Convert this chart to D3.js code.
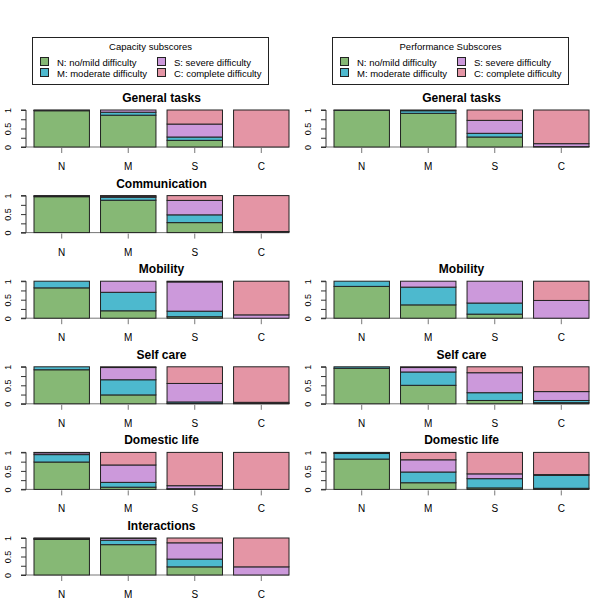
<!DOCTYPE html>
<html>
<head>
<meta charset="utf-8">
<script src="https://cdn.jsdelivr.net/npm/d3@7"></script>
<style>
  body { margin: 0; background: #fff; }
  svg { display: block; font-family: "Liberation Sans", Arial, sans-serif; }
</style>
</head>
<body>
<svg id="chart" width="600" height="600"></svg>
<script>
// ---- data ----
const categories = ["N", "M", "S", "C"];
const levels = ["N", "M", "S", "C"];
const levelLabels = ["N: no/mild difficulty", "M: moderate difficulty", "S: severe difficulty", "C: complete difficulty"];
const colors = ["#86B875", "#4DB9CE", "#CC99DB", "#E495A5"];
const domains = ["General tasks", "Communication", "Mobility", "Self care", "Domestic life", "Interactions"];
const yTicks = [0, 0.25, 0.5, 0.75, 1];
const yTickLabels = ["0", "", "0.5", "", "1"];

// each row: one bar (N, M, S, C) ; values: shares of N, M, S, C
const capGeneral = [[0.98, 0.01, 0.01, 0.00], [0.86, 0.08, 0.06, 0.00], [0.18, 0.09, 0.35, 0.38], [0.00, 0.00, 0.00, 1.00]];
const capCommunication = [[0.97, 0.02, 0.01, 0.00], [0.875, 0.08, 0.03, 0.015], [0.27, 0.21, 0.39, 0.13], [0.00, 0.00, 0.03, 0.97]];
const capMobility = [[0.82, 0.18, 0.00, 0.00], [0.20, 0.50, 0.30, 0.00], [0.04, 0.15, 0.79, 0.02], [0.00, 0.00, 0.09, 0.91]];
const capSelfCare = [[0.92, 0.08, 0.00, 0.00], [0.24, 0.41, 0.33, 0.02], [0.01, 0.04, 0.50, 0.45], [0.00, 0.01, 0.03, 0.96]];
const capDomestic = [[0.74, 0.20, 0.05, 0.01], [0.06, 0.13, 0.47, 0.34], [0.01, 0.01, 0.08, 0.90], [0.00, 0.00, 0.00, 1.00]];
const capInteractions = [[0.96, 0.02, 0.01, 0.01], [0.82, 0.12, 0.05, 0.01], [0.22, 0.21, 0.44, 0.13], [0.00, 0.00, 0.22, 0.78]];

const perfGeneral = [[0.99, 0.01, 0.00, 0.00], [0.91, 0.07, 0.02, 0.00], [0.27, 0.10, 0.35, 0.28], [0.00, 0.01, 0.08, 0.91]];
const perfMobility = [[0.86, 0.14, 0.00, 0.00], [0.36, 0.48, 0.16, 0.00], [0.11, 0.30, 0.59, 0.00], [0.00, 0.00, 0.48, 0.52]];
const perfSelfCare = [[0.96, 0.04, 0.00, 0.00], [0.50, 0.36, 0.12, 0.02], [0.09, 0.21, 0.54, 0.16], [0.03, 0.06, 0.24, 0.67]];
const perfDomestic = [[0.82, 0.15, 0.02, 0.01], [0.18, 0.29, 0.33, 0.20], [0.04, 0.25, 0.13, 0.58], [0.03, 0.35, 0.02, 0.60]];

const capacityPanels = [capGeneral, capCommunication, capMobility, capSelfCare, capDomestic, capInteractions];
const performancePanels = [perfGeneral, null, perfMobility, perfSelfCare, perfDomestic, null];
const legendTitles = ["Capacity subscores", "Performance Subscores"];

// ---- drawing ----
const svg = d3.select("#chart");
svg.append("rect").attr("width", 600).attr("height", 600).attr("fill", "#fff");

const rowStep = 85.6, firstTop = 110, barH = 37;

function drawPanel(g, data, title, top) {
  const bottom = top + barH;
  const x = d3.scaleBand().domain(categories).range([34, 289]).paddingInner(0.2 / 1.2).paddingOuter(0);
  const y = d3.scaleLinear().domain([0, 1]).range([bottom, top]);
  const rows = data.map((v, i) => {
    const o = { cat: categories[i] };
    levels.forEach((l, j) => o[l] = v[j]);
    return o;
  });
  const series = d3.stack().keys(levels)(rows);

  g.append("text").attr("x", 161.5).attr("y", top - 8).attr("text-anchor", "middle")
    .attr("font-weight", "bold").attr("font-size", 12).attr("fill", "#000").text(title);

  // x axis line
  g.append("line").attr("x1", 26).attr("x2", 289).attr("y1", bottom).attr("y2", bottom)
    .attr("stroke", "#777").attr("stroke-width", 1);

  series.forEach((s, k) => {
    g.append("g").selectAll("rect").data(s).join("rect")
      .attr("x", d => x(d.data.cat))
      .attr("width", x.bandwidth())
      .attr("y", d => y(d[1]))
      .attr("height", d => y(d[0]) - y(d[1]))
      .attr("fill", colors[k])
      .attr("stroke", "#222").attr("stroke-width", 1);
  });

  // x ticks and labels
  const xt = g.append("g");
  categories.forEach(c => {
    const cx = x(c) + x.bandwidth() / 2;
    xt.append("line").attr("x1", cx).attr("x2", cx).attr("y1", bottom + 1).attr("y2", bottom + 6)
      .attr("stroke", "#777");
    xt.append("text").attr("x", cx).attr("y", bottom + 23).attr("text-anchor", "middle")
      .attr("font-size", 10).attr("fill", "#000").text(c);
  });

  // y axis
  const yAxis = d3.axisLeft(y).tickValues(yTicks).tickSize(5)
    .tickFormat((d, i) => yTickLabels[i]);
  const ya = g.append("g").attr("transform", "translate(26,0)").call(yAxis);
  ya.select(".domain").attr("stroke", "#333").attr("d", `M-5,${y(0)}H0V${y(1)}H-5`);
  ya.selectAll(".tick line").attr("stroke", "#333");
  ya.selectAll(".tick text")
    .attr("font-size", 9).attr("font-family", "Liberation Sans, Arial, sans-serif").attr("fill", "#000")
    .attr("text-anchor", "middle").attr("x", 0).attr("dy", 0)
    .attr("transform", d => `translate(-18,${0}) rotate(-90)`)
    .attr("y", 3);
}

function drawLegend(g, title) {
  g.append("rect").attr("x", 32.5).attr("y", 37.5).attr("width", 236).attr("height", 47)
    .attr("fill", "none").attr("stroke", "#222");
  g.append("text").attr("x", 150.5).attr("y", 49.5).attr("text-anchor", "middle")
    .attr("font-size", 9.5).attr("fill", "#000").text(title);
  const pos = [[40, 62], [40, 73], [157, 62], [157, 73]];
  levelLabels.forEach((lab, i) => {
    g.append("rect").attr("x", pos[i][0] + 0.5).attr("y", pos[i][1] - 4.5).attr("width", 8).attr("height", 8)
      .attr("fill", colors[i]).attr("stroke", "#222");
    g.append("text").attr("x", pos[i][0] + 17).attr("y", pos[i][1] + 3.5)
      .attr("font-size", 9.5).attr("fill", "#000").text(lab);
  });
}

[capacityPanels, performancePanels].forEach((panels, col) => {
  const g = svg.append("g").attr("transform", `translate(${col * 300},0)`);
  drawLegend(g, legendTitles[col]);
  panels.forEach((data, i) => {
    if (!data) return;
    drawPanel(g.append("g"), data, domains[i], firstTop + i * rowStep);
  });
});
</script>
</body>
</html>
